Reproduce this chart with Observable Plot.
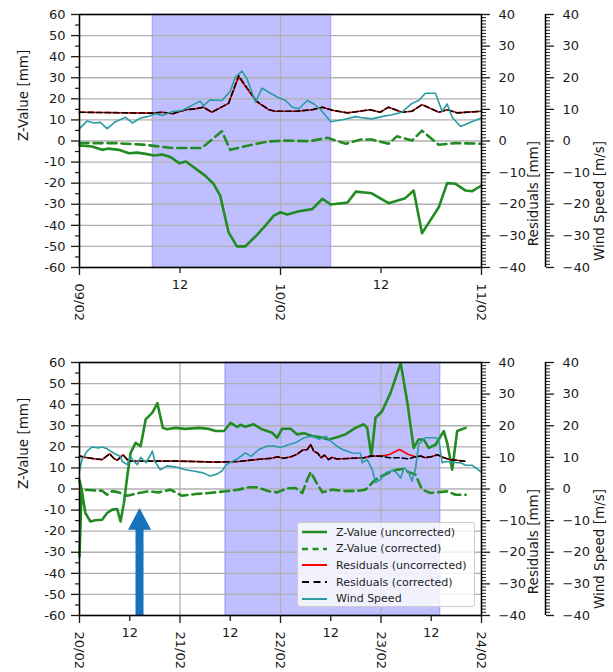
<!DOCTYPE html>
<html>
<head>
<meta charset="utf-8">
<script src="https://cdn.jsdelivr.net/npm/d3@7"></script>
<script src="https://cdn.jsdelivr.net/npm/@observablehq/plot@0.6"></script>
<style>
  body { margin: 0; background: #fff; }
  #chart { position: relative; width: 613px; height: 672px; font-family: "DejaVu Sans", sans-serif; }
  #chart svg { display: block; }
  .legend { position: absolute; left: 297px; top: 522px; width: 178px; height: 85px; box-sizing: border-box;
    background: rgba(255,255,255,0.8); border: 1px solid #cccccc; border-radius: 3px;
    font-family: "DejaVu Sans", sans-serif; font-size: 11px; color: #222; }
  .legend .row { position: absolute; left: 3px; height: 14px; display: flex; align-items: center; white-space: nowrap; }
  .legend svg { display: block; margin-right: 9px; }
</style>
</head>
<body>
<div id="chart"></div>
<script>
// ---------------- data ----------------
// Y (Z-value) ticks in mm; secondary axes ticks (Residuals mm, Wind m/s)
const zTicks = [-60, -50, -40, -30, -20, -10, 0, 10, 20, 30, 40, 50, 60];
const zMinorTicks = [-55, -45, -35, -25, -15, -5, 5, 15, 25, 35, 45, 55];
const rightTicks = [-40, -30, -20, -10, 0, 10, 20, 30, 40];
const rightMinorTicks = d3.range(-40, 41).filter(v => v % 10 !== 0);
const zToRight = 60 / 40; // secondary axes span -40..40 over the same height

// ---- top panel (09/02 - 11/02), hours since 09/02 00:00
const topStart = "2017-02-09T00:00Z", topEnd = "2017-02-11T00:00Z";
const topDayTicks = ["2017-02-09T00:00Z", "2017-02-10T00:00Z", "2017-02-11T00:00Z"];
const topHalfTicks = ["2017-02-09T12:00Z", "2017-02-10T12:00Z"];
const topShade = ["2017-02-09T08:45Z", "2017-02-10T06:03Z"];

const topZuHours = [0, 1.5, 2.7, 3.5, 4.7, 5.9, 6.9, 7.9, 8.9, 9.9, 10.9, 11.9, 12.7, 13.9, 15.0, 16.0, 16.8, 17.2, 17.8, 18.8, 19.8, 21.0, 22.2, 23.2, 24.0, 24.8, 26.2, 27.8, 29.0, 30.0, 32.0, 33.0, 34.9, 36.9, 38.9, 39.9, 40.9, 42.9, 43.9, 44.9, 46.1, 46.9, 48];
const topZu = [-2.1, -2.6, -4.2, -3.6, -4.2, -5.8, -5.5, -6.1, -6.9, -6.4, -7.7, -10.5, -9.7, -13.2, -16.4, -20.3, -25.9, -33.0, -43.3, -50, -50, -45.3, -40.1, -35.4, -33.8, -34.9, -33.3, -32.3, -27.4, -30.1, -29.2, -24.0, -24.8, -29.5, -27.1, -23.5, -43.7, -31.4, -20.0, -20.3, -23.5, -23.8, -21.1];

const topZcHours = [0, 4.3, 7.5, 11.1, 14.6, 17.0, 18.0, 20.2, 22.6, 24.6, 27.4, 29.6, 31.8, 33.6, 34.9, 36.9, 37.9, 39.7, 40.9, 42.9, 44.9, 48];
const topZc = [-1.0, -1.0, -1.7, -3.3, -3.3, 4.6, -4.2, -2.1, -0.2, 0.2, -0.1, 1.5, -1.3, 0.7, 0.7, -1.3, 2.2, 0.2, 4.9, -1.8, -1.0, -1.3];

const topResHours = [0, 8.7, 9.9, 11.1, 12.7, 13.9, 14.8, 15.8, 17.8, 19.0, 20.0, 21.2, 22.6, 23.4, 25.8, 27.8, 29.0, 30.2, 32.0, 33.4, 34.7, 35.9, 36.9, 38.5, 39.7, 40.9, 42.9, 43.9, 45.1, 48];
const topResU = [9.1, 8.8, 9.1, 8.6, 9.9, 10.2, 10.7, 9.1, 11.9, 20.2, 16.5, 12.3, 9.9, 9.4, 9.4, 9.9, 10.7, 9.7, 8.9, 9.4, 9.9, 9.1, 10.7, 9.1, 9.4, 11.5, 9.1, 9.9, 8.9, 9.4];
const topResC = [9.1, 8.8, 9.1, 8.6, 9.9, 10.2, 10.7, 9.1, 11.9, 20.7, 16.8, 12.5, 9.9, 9.4, 9.4, 9.9, 10.7, 9.7, 8.9, 9.4, 9.9, 9.1, 10.7, 9.1, 9.4, 11.5, 9.1, 9.9, 8.9, 9.4];

const topWindHours = [0, 0.9, 1.7, 2.5, 3.3, 4.3, 5.5, 6.3, 7.3, 8.1, 9.1, 9.9, 11.1, 12.3, 13.6, 14.4, 14.8, 15.6, 17.0, 18.0, 18.6, 19.4, 20.0, 21.0, 21.8, 22.6, 23.6, 24.6, 25.4, 26.2, 27.2, 28.0, 28.8, 30.0, 31.4, 33.0, 33.9, 34.9, 36.1, 37.3, 38.5, 39.7, 40.5, 41.3, 42.5, 43.3, 43.9, 44.5, 45.5, 46.7, 48];
const topWind = [3.9, 6.3, 5.7, 5.9, 3.9, 6.1, 7.5, 5.7, 7.3, 7.7, 8.6, 8.1, 9.3, 9.7, 11.5, 12.6, 11.2, 13.0, 12.8, 15.7, 20.2, 22.1, 19.7, 12.3, 16.7, 15.4, 13.9, 12.8, 10.7, 10.2, 12.8, 11.7, 9.9, 6.1, 6.7, 7.7, 7.3, 7.0, 7.7, 8.3, 9.1, 11.9, 12.8, 15.1, 15.1, 9.4, 11.7, 7.5, 4.6, 5.9, 7.3];

// ---- bottom panel (20/02 - 24/02), hours since 20/02 00:00
const botStart = "2017-02-20T00:00Z", botEnd = "2017-02-24T00:00Z";
const botDayTicks = ["2017-02-20T00:00Z", "2017-02-21T00:00Z", "2017-02-22T00:00Z", "2017-02-23T00:00Z", "2017-02-24T00:00Z"];
const botHalfTicks = ["2017-02-20T12:00Z", "2017-02-21T12:00Z", "2017-02-22T12:00Z", "2017-02-23T12:00Z"];
const botShade = ["2017-02-21T10:50Z", "2017-02-23T14:10Z"];

const botZuHours = [0, 0.5, 1.4, 2.6, 3.8, 5.4, 6.6, 7.8, 9.0, 9.8, 10.6, 11.4, 12.2, 13.4, 14.6, 15.8, 17.4, 18.6, 19.9, 20.9, 22.9, 25.3, 28.5, 30.9, 32.5, 34.5, 36.1, 37.7, 38.4, 39.6, 41.6, 43.6, 46.0, 47.2, 48.4, 50.4, 52.0, 53.6, 55.6, 57.6, 59.5, 61.5, 63.5, 65.9, 67.9, 68.7, 69.7, 70.7, 72.3, 74.3, 76.7, 78.3, 79.8, 81.0, 82.2, 83.4, 85.0, 85.8, 87.0, 87.8, 89.0, 90.2, 92.2];
const botZu = [-32, 0, -11.4, -15.4, -14.8, -14.6, -11.4, -9.8, -9.5, -15.4, -6.7, 6.0, 17.1, 21.9, 20.3, 33.0, 36.2, 40.7, 29.0, 28.3, 29.0, 28.5, 29.0, 28.5, 27.5, 27.5, 31.4, 29.4, 30.5, 29.5, 30.7, 28.3, 26.7, 24.3, 28.6, 28.6, 25.9, 26.5, 25.1, 24.5, 23.5, 24.5, 25.9, 29.0, 30.7, 29.0, 15.6, 33.8, 37.0, 45.7, 59.7, 41.0, 19.5, 23.5, 23.5, 19.5, 21.0, 23.5, 27.5, 21.9, 9.2, 27.5, 29.0];

const botZcHours = [0, 0.5, 2.2, 5.4, 6.6, 7.8, 9.4, 11.4, 14.2, 16.5, 18.9, 21.7, 24.5, 27.7, 30.9, 34.9, 38.0, 40.4, 42.4, 45.2, 47.2, 49.6, 51.6, 53.2, 54.4, 55.2, 56.4, 58.0, 60.3, 63.5, 66.7, 68.3, 70.7, 73.1, 75.5, 77.1, 78.6, 80.2, 81.8, 83.8, 85.8, 87.8, 89.8, 92.2];
const botZc = [4.1, -0.3, -0.5, -0.8, -2.7, -1.0, -1.6, -3.2, -1.9, -1.1, -1.6, -0.3, -3.2, -2.4, -1.9, -1.1, -0.3, 0.8, 0.8, -1.1, -1.6, 0.3, 0.5, -1.9, 4.5, 8.0, 3.7, -1.6, -0.3, -1.0, -0.8, -0.3, 4.5, 7.0, 9.0, 9.5, 8.0, 6.9, -0.3, -1.9, -1.5, -1.1, -2.7, -2.7];

const botResHours = [0, 1.4, 3.8, 5.4, 7.2, 8.2, 9.0, 10.4, 11.6, 12.8, 24, 33, 38, 42, 45.8, 47.3, 48.7, 50.5, 52.0, 53.3, 54.4, 55.2, 55.9, 56.9, 57.7, 58.5, 59.5, 60.3, 61.5, 65, 68, 69.5, 72, 74, 76.4, 78.6, 80.2, 81.5, 82.5, 84, 85.5, 87, 88.5, 90, 92];
const botResU = [10.4, 10.0, 9.5, 9.3, 11.1, 9.7, 9.1, 10.8, 9.0, 8.8, 8.8, 8.5, 8.7, 9.3, 9.7, 10.2, 9.7, 10.2, 11.0, 12.3, 12.5, 14.1, 12.0, 11.3, 9.9, 10.7, 9.3, 10.0, 9.5, 9.7, 9.9, 10.4, 10.4, 10.9, 12.5, 10.9, 10.2, 10.4, 9.9, 10.2, 10.8, 9.9, 9.3, 9.1, 8.8];
const botResC = [10.4, 10.0, 9.5, 9.3, 11.1, 9.7, 9.1, 10.8, 9.0, 8.8, 8.8, 8.5, 8.7, 9.3, 9.7, 10.2, 9.7, 10.2, 11.0, 12.3, 12.5, 14.1, 12.0, 11.3, 9.9, 10.7, 9.3, 10.0, 9.5, 9.7, 9.9, 10.4, 10.4, 9.9, 9.9, 9.5, 10.2, 10.4, 9.9, 10.2, 10.8, 9.9, 9.3, 9.1, 8.8];

const botWindHours = [0, 0.6, 1.8, 3.0, 4.4, 5.4, 6.6, 8.2, 9.8, 10.2, 11.4, 12.2, 12.8, 13.8, 14.6, 15.9, 17.0, 17.4, 18.0, 19.3, 20.9, 22.8, 25.3, 27.5, 29.5, 31.2, 32.8, 34.0, 35.1, 38.1, 39.6, 41.0, 42.8, 44.7, 46.3, 47.3, 48.4, 50.0, 51.6, 53.6, 55.6, 57.3, 58.8, 60.0, 61.5, 62.8, 65.2, 67.1, 67.5, 68.7, 69.9, 70.7, 71.9, 73.1, 75.1, 76.7, 77.5, 78.6, 79.4, 80.2, 81.0, 82.6, 85.0, 85.8, 86.6, 87.4, 90.2, 91.0, 92.2, 93.8, 96];
const botWind = [5.7, 9.3, 12.0, 13.3, 13.0, 13.3, 12.7, 11.3, 10.3, 8.7, 7.7, 10.4, 9.0, 7.7, 10.0, 8.3, 10.9, 12.0, 8.7, 6.1, 7.3, 7.0, 6.1, 5.6, 5.1, 4.1, 4.7, 5.7, 7.7, 9.9, 11.4, 10.3, 12.5, 13.5, 13.7, 13.3, 13.3, 14.1, 14.6, 16.2, 16.7, 15.7, 16.7, 15.1, 13.5, 12.5, 11.4, 11.3, 8.3, 9.3, 6.1, 2.1, 3.0, 5.1, 6.1, 3.5, 6.7, 5.3, 2.5, 6.1, 14.1, 16.2, 16.2, 15.7, 8.3, 8.7, 8.3, 8.3, 7.5, 7.5, 5.3];

// blue arrow (bottom panel), Z-value units
const arrowTime = ["2017-02-20T14:20Z"];
const arrowTail = [-60];
const arrowHeadBase = [-19];
const arrowTip = [-9];

// legend
const legendLabels = ["Z-Value (uncorrected)", "Z-Value (corrected)", "Residuals (uncorrected)", "Residuals (corrected)", "Wind Speed"];

// ---------------- styles ----------------
const GREEN = "#228b22", RED = "#ff0000", BLACK = "#000000", TEAL = "#2a9ca0", ARROW = "#1772bd";
const fmtRight = d => { const v = Math.round(d / zToRight); return v < 0 ? "\u2212" + (-v) : String(v); };

function rows(start, hours, values) {
  const t0 = Date.parse(start);
  return hours.map((h, i) => ({t: new Date(t0 + h * 3600000), v: values[i]}));
}

// filled triangle head whose apex sits on the point
const headSymbol = {
  draw(context, size) {
    const s = Math.sqrt(size);
    context.moveTo(0, 0);
    context.lineTo(s / 2, 0.95 * s);
    context.lineTo(-s / 2, 0.95 * s);
    context.closePath();
  }
};

function panel(o) {
  const zu = rows(o.start, o.zuHours, o.zu);
  const zc = rows(o.start, o.zcHours, o.zc);
  const ru = rows(o.start, o.resHours, o.resU);
  const rc = rows(o.start, o.resHours, o.resC);
  const ws = rows(o.start, o.windHours, o.wind);
  const days = o.dayTicks.map(d => new Date(d));
  const halves = o.halfTicks.map(d => new Date(d));
  const end = new Date(o.end);
  return Plot.plot({
    width: 613,
    height: o.height,
    marginTop: o.marginTop,
    marginBottom: o.marginBottom,
    marginLeft: 79,
    marginRight: 132,
    style: {fontFamily: "DejaVu Sans, sans-serif", fontSize: "13px", color: "#1a1a1a", background: "white"},
    x: {type: "utc", domain: [new Date(o.start), end]},
    y: {domain: [zTicks[0], zTicks[zTicks.length - 1]]},
    marks: [
      Plot.rect([o.shade], {x1: d => new Date(d[0]), x2: d => new Date(d[1]), fill: "blue", fillOpacity: 0.25, stroke: "blue", strokeOpacity: 0.2, strokeWidth: 1.5}),
      Plot.gridY(zTicks, {stroke: "#b0b0b0", strokeOpacity: 1, strokeWidth: 1.3}),
      Plot.gridX(days, {stroke: "#b0b0b0", strokeOpacity: 1, strokeWidth: 1.3}),
      Plot.line(zu, {x: "t", y: "v", stroke: GREEN, strokeWidth: 2.6, strokeLinejoin: "round"}),
      Plot.line(zc, {x: "t", y: "v", stroke: GREEN, strokeWidth: 2.6, strokeDasharray: "9,5"}),
      Plot.line(ru, {x: "t", y: d => d.v * zToRight, stroke: RED, strokeWidth: 1.6}),
      Plot.line(rc, {x: "t", y: d => d.v * zToRight, stroke: BLACK, strokeWidth: 1.6, strokeDasharray: "5.5,3"}),
      Plot.line(ws, {x: "t", y: d => d.v * zToRight, stroke: TEAL, strokeWidth: 1.6}),
      ...(o.extra || []),
      Plot.frame({stroke: "black", strokeWidth: 1.5}),
      // left axis
      Plot.axisY(zTicks, {anchor: "left", tickSize: 8, tickPadding: 6, tickFormat: d => String(d), label: null, strokeWidth: 1.3}),
      Plot.axisY(zMinorTicks, {anchor: "left", tickSize: 4, fill: "none", label: null, strokeWidth: 1.2}),
      // residuals axis (right spine)
      Plot.axisY(rightTicks.map(v => v * zToRight), {anchor: "right", tickSize: 8, tickPadding: 9, tickFormat: fmtRight, label: null, strokeWidth: 1.3}),
      Plot.axisY(rightMinorTicks.map(v => v * zToRight), {anchor: "right", tickSize: 4, fill: "none", label: null, strokeWidth: 1}),
      // wind speed axis (offset spine)
      Plot.ruleX([end], {dx: 64, stroke: "black", strokeWidth: 1.5}),
      Plot.axisY(rightTicks.map(v => v * zToRight), {anchor: "right", dx: 64, tickSize: 8, tickPadding: 9, tickFormat: fmtRight, label: null, strokeWidth: 1.3}),
      Plot.axisY(rightMinorTicks.map(v => v * zToRight), {anchor: "right", dx: 64, tickSize: 4, fill: "none", label: null, strokeWidth: 1}),
      // x axes
      Plot.axisX(days, {anchor: "bottom", tickSize: 8, tickRotate: 90, tickPadding: 8, tickFormat: d3.utcFormat("%d/%m"), label: null, strokeWidth: 1.3}),
      Plot.axisX(halves, {anchor: "bottom", tickSize: 6, tickPadding: 6, tickFormat: () => "12", label: null, strokeWidth: 1.3}),
      // axis titles
      Plot.text(["Z-Value [mm]"], {text: d => d, frameAnchor: "left", dx: -56, rotate: -90, fontSize: 13.5}),
      Plot.text(["Residuals [mm]"], {text: d => d, frameAnchor: "right", dx: 52, rotate: -90, fontSize: 13.5}),
      Plot.text(["Wind Speed [m/s]"], {text: d => d, frameAnchor: "right", dx: 118, rotate: -90, fontSize: 13.5})
    ]
  });
}

const arrowData = arrowTime.map((t, i) => ({t: new Date(t), tail: arrowTail[i], base: arrowHeadBase[i], tip: arrowTip[i]}));

const topChart = panel({
  start: topStart, end: topEnd, dayTicks: topDayTicks, halfTicks: topHalfTicks, shade: topShade,
  zuHours: topZuHours, zu: topZu, zcHours: topZcHours, zc: topZc,
  resHours: topResHours, resU: topResU, resC: topResC, windHours: topWindHours, wind: topWind,
  height: 340, marginTop: 14, marginBottom: 73
});

const botChart = panel({
  start: botStart, end: botEnd, dayTicks: botDayTicks, halfTicks: botHalfTicks, shade: botShade,
  zuHours: botZuHours, zu: botZu, zcHours: botZcHours, zc: botZc,
  resHours: botResHours, resU: botResU, resC: botResC, windHours: botWindHours, wind: botWind,
  height: 332, marginTop: 22, marginBottom: 57,
  extra: [
    Plot.ruleX(arrowData, {x: "t", y1: "tail", y2: "base", stroke: ARROW, strokeWidth: 8}),
    Plot.dot(arrowData, {x: "t", y: "tip", symbol: headSymbol, r: 13, fill: ARROW, stroke: "none"})
  ]
});

const chart = document.getElementById("chart");
chart.appendChild(topChart);
chart.appendChild(botChart);

// legend box (inside lower panel)
const legendStyles = [
  {stroke: GREEN, width: 2.5, dash: null},
  {stroke: GREEN, width: 2.5, dash: "6,4.5"},
  {stroke: RED, width: 2, dash: null},
  {stroke: BLACK, width: 2, dash: "7,4.5"},
  {stroke: TEAL, width: 2, dash: null}
];
const legend = d3.select(chart).append("div").attr("class", "legend");
legendLabels.forEach((label, i) => {
  const row = legend.append("div").attr("class", "row").style("top", (2 + i * 16.7) + "px");
  const svg = row.append("svg").attr("width", 26).attr("height", 14);
  const st = legendStyles[i];
  svg.append("line").attr("x1", 1).attr("x2", 26).attr("y1", 7).attr("y2", 7)
    .attr("stroke", st.stroke).attr("stroke-width", st.width)
    .attr("stroke-dasharray", st.dash);
  row.append("span").text(label);
});
</script>
</body>
</html>
